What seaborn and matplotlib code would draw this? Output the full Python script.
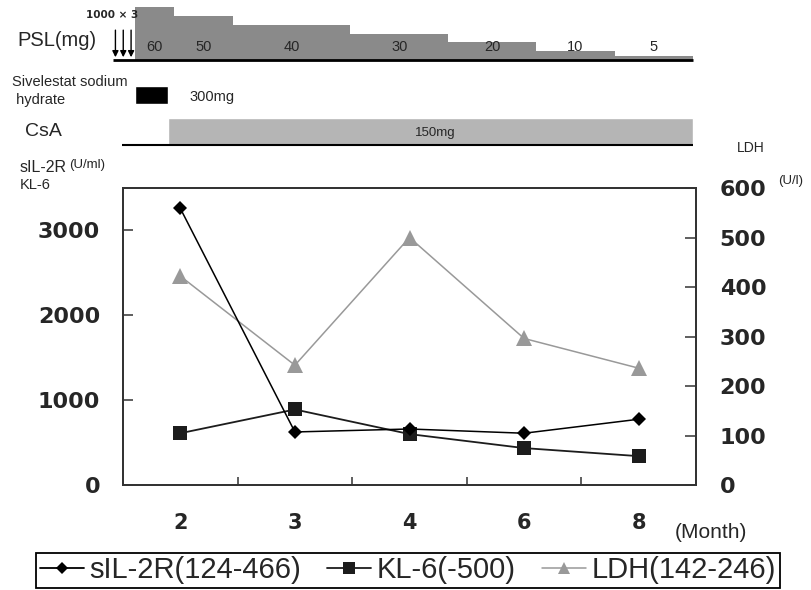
import numpy as np
import matplotlib
matplotlib.use('Agg')
import matplotlib.pyplot as plt
from matplotlib.lines import Line2D
import seaborn as sns

sns.set_style('ticks')
plt.rcParams['font.family'] = ['Liberation Sans', 'DejaVu Sans']

# lab values per month
months = ['2', '3', '4', '6', '8']
sil2r = [3260, 625, 660, 610, 775]
kl6 = [610, 890, 600, 435, 340]
ldh = [422, 242, 500, 296, 236]
labels = ['sIL-2R(124-466)', 'KL-6(-500)', 'LDH(142-246)']

# treatment timeline, in weeks from start of oral PSL
psl_dose = [60, 50, 40, 30, 20, 10, 5]
psl_weeks = [2.0, 3.0, 6.0, 5.0, 4.5, 4.0, 4.0]
pulse_weeks = [-1.0, -0.6, -0.2]
siv_start, siv_weeks = 0.0, 1.7
csa_start = 1.7

W, H = 811, 590
fig = plt.figure(figsize=(W / 100, H / 100), dpi=100)


def px_axes(x0, y0, x1, y1):
    return fig.add_axes([x0 / W, 1 - y1 / H, (x1 - x0) / W, (y1 - y0) / H])


num_font = dict(family='DejaVu Sans', fontweight='bold')

# ---- treatment bars on top ----
pxw = 19.58
tl_xlim = (-135 / pxw, (W - 135) / pxw)
psl_start = np.concatenate([[0], np.cumsum(psl_weeks)[:-1]])
total = float(np.sum(psl_weeks))

ax_p = px_axes(0, 0, W, 60)
ax_p.bar(psl_start, psl_dose, width=psl_weeks, align='edge', color='#8a8a8a', lw=0)
ax_p.hlines(0, pulse_weeks[0] - 0.12, total, color='black', lw=2, clip_on=False)
for p in pulse_weeks:
    ax_p.annotate('', xy=(p, 0), xytext=(p, 37),
                  arrowprops=dict(arrowstyle='-|>', color='black', lw=1, mutation_scale=9),
                  annotation_clip=False)
ax_p.text(pulse_weeks[1] - 0.55, 51, '1000 × 3', ha='center', va='center', fontsize=7.5, **num_font)
for s, w, d in zip(psl_start, psl_weeks, psl_dose):
    ax_p.text(s + w / 2, 14.7, str(d), ha='center', va='center', fontsize=10.5)
ax_p.set_xlim(tl_xlim)
ax_p.set_ylim(0, 68)
ax_p.axis('off')

ax_s = px_axes(0, 80, W, 110)
ax_s.barh(0.5, siv_weeks, left=siv_start, height=0.6, color='black')
ax_s.text(siv_start + siv_weeks + 1.1, 0.43, '300mg', ha='left', va='center', fontsize=10.5)
ax_s.set_xlim(tl_xlim)
ax_s.set_ylim(0, 1)
ax_s.axis('off')

ax_c = px_axes(0, 110, W, 145)
ax_c.barh(0.385, total - csa_start, left=csa_start, height=0.77, color='#b5b5b5')
ax_c.hlines(0, pulse_weeks[0] + 0.34, total, color='black', lw=1.5, clip_on=False)
ax_c.text(14.3, 0.34, '150mg', ha='left', va='center', fontsize=9.5)
ax_c.set_xlim(tl_xlim)
ax_c.set_ylim(0, 1)
ax_c.axis('off')

fig.text(17 / W, 1 - 40 / H, 'PSL(mg)', ha='left', va='center', fontsize=14.5)
fig.text(12 / W, 1 - 91 / H, 'Sivelestat sodium\n hydrate', ha='left', va='center',
         fontsize=10.5, linespacing=1.4)
fig.text(25 / W, 1 - 132 / H, 'CsA', ha='left', va='center', fontsize=14)

# ---- main chart ----
ax = px_axes(123, 188, 696, 485)
ax2 = ax.twinx()

sns.pointplot(x=months, y=ldh, ax=ax2, color='#999999', marker='^', markersize=11,
              linewidth=1.1, markeredgewidth=0, errorbar=None)
sns.pointplot(x=months, y=kl6, ax=ax, color='#1c1c1c', marker='s', markersize=10,
              linewidth=1.3, markeredgewidth=0, errorbar=None)
sns.pointplot(x=months, y=sil2r, ax=ax, color='black', marker='D', markersize=7.5,
              linewidth=1.1, markeredgewidth=0, errorbar=None)

ax.set_zorder(ax2.get_zorder() + 1)
ax.patch.set_visible(False)

ax.set_ylim(0, 3500)
ax.set_yticks([0, 1000, 2000, 3000], ['0', '1000', '2000', '3000'], fontsize=16, **num_font)
ax2.set_ylim(0, 600)
ax2.set_yticks(range(0, 700, 100), [str(v) for v in range(0, 700, 100)], fontsize=16, **num_font)

ax.set_xlim(-0.5, len(months) - 0.5)
ax.set_xticks(np.arange(len(months) - 1) + 0.5, [])
ax.set_xticks(range(len(months)), months, minor=True, fontsize=15, **num_font)
ax.tick_params(axis='x', which='major', direction='in', length=6, width=1.1, color='#333333')
ax.tick_params(axis='x', which='minor', length=0, pad=20)
ax.tick_params(axis='y', direction='in', length=7, width=1.1, pad=16.5, color='#333333')
ax2.tick_params(axis='y', direction='in', length=8, width=1.1, pad=17, color='#333333')

for a in (ax, ax2):
    a.set_xlabel('')
    a.set_ylabel('')
    for sp in a.spines.values():
        sp.set_visible(True)
        sp.set_linewidth(1.3)
        sp.set_color('#333333')

fig.text(20 / W, 1 - 168 / H, 'sIL-2R', ha='left', va='center', fontsize=11.5)
fig.text(69 / W, 1 - 165 / H, '(U/ml)', ha='left', va='center', fontsize=9.5)
fig.text(20 / W, 1 - 185 / H, 'KL-6', ha='left', va='center', fontsize=10.5)
fig.text(737 / W, 1 - 148 / H, 'LDH', ha='left', va='center', fontsize=10)
fig.text(778 / W, 1 - 181 / H, '(U/l)', ha='left', va='center', fontsize=9.5)
fig.text(675 / W, 1 - 533 / H, '(Month)', ha='left', va='center', fontsize=15)

handles = [
    Line2D([], [], color='black', marker='D', markersize=6.5, lw=1.3, markeredgewidth=0),
    Line2D([], [], color='#1c1c1c', marker='s', markersize=8, lw=1.3, markeredgewidth=0),
    Line2D([], [], color='#999999', marker='^', markersize=9, lw=1.1, markeredgewidth=0),
]
leg = fig.legend(handles, labels, loc='center', bbox_to_anchor=(408 / W, 1 - 570 / H),
                 ncol=3, frameon=True, fancybox=False, edgecolor='black', framealpha=1,
                 fontsize=21, handlelength=1.5, handletextpad=0.2, columnspacing=0.9,
                 borderpad=0.12)
leg.get_frame().set_linewidth(1.3)

fig.savefig('out.png', dpi=100)
